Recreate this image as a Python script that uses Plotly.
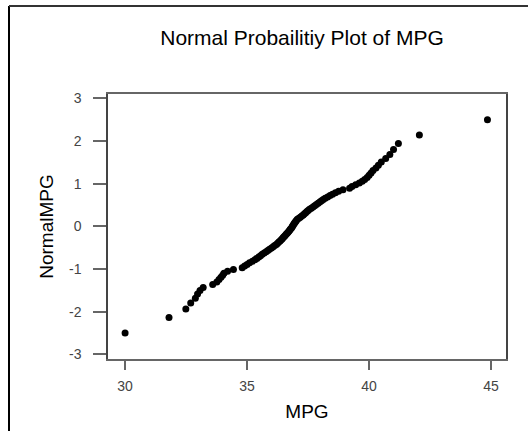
from statistics import NormalDist
import plotly.graph_objects as go

title_text = "Normal Probailitiy Plot of MPG"
x_label = "MPG"
y_label = "NormalMPG"

mpg = [
    30.0, 31.8, 32.49, 32.69, 32.88, 32.97, 33.07, 33.2, 33.59, 33.76,
    33.85, 33.93, 34.0, 34.05, 34.2, 34.44, 34.8, 34.9, 35.0, 35.1,
    35.22, 35.32, 35.4, 35.48, 35.55, 35.62, 35.7, 35.78, 35.85, 35.92,
    36.0, 36.07, 36.13, 36.2, 36.25, 36.3, 36.35, 36.4, 36.44, 36.48,
    36.52, 36.56, 36.6, 36.64, 36.68, 36.72, 36.75, 36.78, 36.82, 36.85,
    36.87, 36.9, 36.93, 36.96, 36.99, 37.02, 37.06, 37.12, 37.18, 37.24,
    37.3, 37.35, 37.4, 37.45, 37.5, 37.56, 37.63, 37.7, 37.77, 37.84,
    37.91, 37.98, 38.05, 38.12, 38.2, 38.3, 38.4, 38.5, 38.62, 38.75,
    38.93, 39.2, 39.3, 39.45, 39.6, 39.72, 39.82, 39.92, 40.0, 40.08,
    40.16, 40.28, 40.38, 40.5, 40.68, 40.85, 41.0, 41.2, 42.06, 44.85,
]

x_ticks = [30, 35, 40, 45]
y_ticks = [-3, -2, -1, 0, 1, 2, 3]

# Normal scores (Blom) from the ranks of the sorted MPG values
n = len(mpg)
mpg_sorted = sorted(mpg)
normal_scores = [NormalDist().inv_cdf((i - 0.375) / (n + 0.25)) for i in range(1, n + 1)]

fig = go.Figure(
    go.Scatter(
        x=mpg_sorted,
        y=normal_scores,
        mode="markers",
        marker=dict(color="black", size=7),
        showlegend=False,
    )
)

font_family = "Arial, Liberation Sans, sans-serif"

fig.update_layout(
    width=528,
    height=431,
    margin=dict(l=108, r=22, t=94, b=69),
    paper_bgcolor="white",
    plot_bgcolor="white",
    font=dict(family=font_family, color="black"),
    title=dict(
        text=title_text,
        x=0.572, xref="container", xanchor="center",
        y=1 - 38 / 431, yref="container", yanchor="middle",
        font=dict(size=21, color="black", family=font_family),
    ),
    shapes=[
        dict(type="line", xref="paper", yref="paper",
             x0=(9 - 108) / 398, x1=(9 - 108) / 398,
             y0=(362 - 5) / 268, y1=-0.4,
             line=dict(color="black", width=2)),
        dict(type="line", xref="paper", yref="paper",
             x0=(9 - 108) / 398, x1=1.2,
             y0=(362 - 5) / 268, y1=(362 - 5) / 268,
             line=dict(color="#333333", width=2)),
    ],
)

fig.update_xaxes(
    range=[29.3, 45.61],
    tickvals=x_ticks,
    ticktext=[str(v) for v in x_ticks],
    showgrid=False, zeroline=False,
    showline=True, linecolor="#666666", linewidth=1.5, mirror=True,
    ticks="outside", ticklen=9, tickwidth=1.5, tickcolor="#666666",
    tickfont=dict(size=14, color="#444444", family=font_family),
    ticklabelstandoff=4,
    title=dict(text=x_label, font=dict(size=19, color="black", family=font_family), standoff=12),
)

fig.update_yaxes(
    range=[-3.11, 3.1],
    tickvals=y_ticks,
    ticktext=[str(v) for v in y_ticks],
    showgrid=False, zeroline=False,
    showline=True, linecolor="#444444", linewidth=1.5, mirror=True,
    ticks="outside", ticklen=13, tickwidth=1.5, tickcolor="#666666",
    tickfont=dict(size=14, color="#444444", family=font_family),
    ticklabelstandoff=9,
    title=dict(text=y_label, font=dict(size=19, color="black", family=font_family), standoff=10),
)

fig.write_html(
    "out.html",
    config={"displayModeBar": False},
    post_script="document.body.style.margin='0';document.body.style.overflow='hidden';",
)
